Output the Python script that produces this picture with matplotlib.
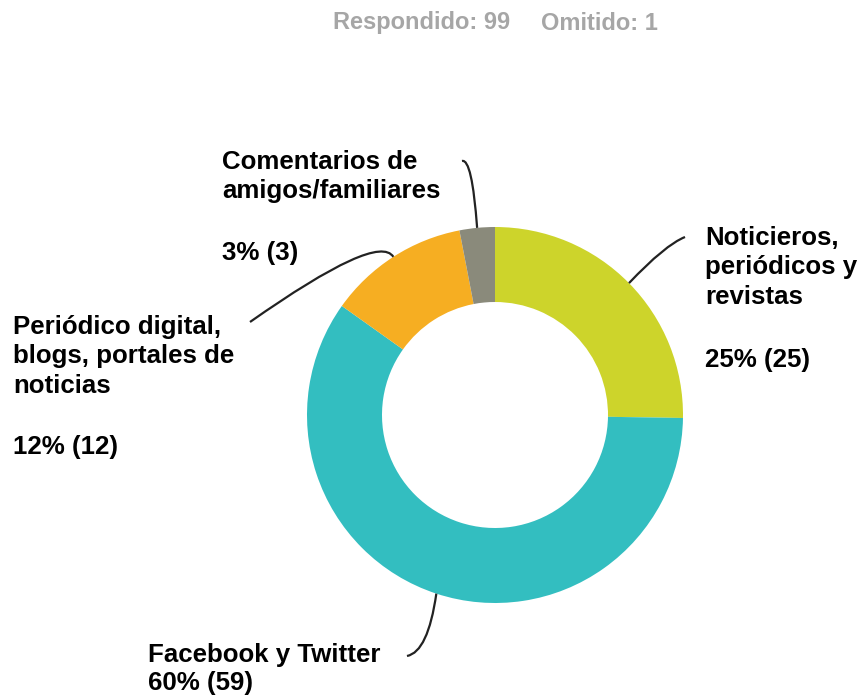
import numpy as np
import matplotlib.pyplot as plt
from matplotlib.path import Path
from matplotlib.patches import PathPatch

# Datos de la encuesta
categorias = ["Noticieros,\nperiódicos y\nrevistas",
              "Facebook y Twitter",
              "Periódico digital,\nblogs, portales de\nnoticias",
              "Comentarios de\namigos/familiares"]
conteos = [25, 59, 12, 3]
porcentajes = [25, 60, 12, 3]
colores = ["#CDD42B", "#33BEC0", "#F6AE22", "#8A8A7B"]
respondido = 99
omitido = 1

W, H = 862, 700
plt.rcParams['font.family'] = ['Liberation Sans', 'DejaVu Sans']

fig = plt.figure(figsize=(W / 100, H / 100), dpi=100)
ax = fig.add_axes([0, 0, 1, 1])

def Y(p):
    # coordenadas en pixeles desde arriba
    return H - p

cx, cy, R, r_in = 495, Y(415), 188, 113
wedges, _ = ax.pie(conteos, colors=colores, startangle=90, counterclock=False,
                   radius=R, center=(cx, cy),
                   wedgeprops=dict(width=R - r_in, linewidth=0))
ax.set_xlim(0, W)
ax.set_ylim(0, H)
ax.axis('off')

# Encabezado
ax.text(333, Y(23), f"Respondido: {respondido}", color="#A6A6A6", fontsize=17,
        fontweight='bold', va='center', ha='left')
ax.text(541, Y(23), f"Omitido: {omitido}", color="#A6A6A6", fontsize=17,
        fontweight='bold', va='center', ha='left')

# Posiciones de etiquetas (x izquierda, linea base primera linea, linea base porcentaje)
etiquetas = [
    (705, 245, 367),
    (148, 662, 690),
    (13, 334, 454),
    (222, 169, 260),
]
# punto de control y fin de las lineas guia (en pixeles)
guias = [
    [(665, 245), (685, 237)],
    [(428, 652), (407, 656)],
    [(378, 232), (250, 322)],
    [(472, 158), (462, 161)],
]

paso = 29.5
for i, w in enumerate(wedges):
    x0, b1, b2 = etiquetas[i]
    lineas = categorias[i].split("\n")
    for k, ln in enumerate(lineas):
        ax.text(x0, Y(b1 + k * paso), ln, fontsize=18.6, fontweight='bold',
                color="#000000", ha='left', va='baseline')
    ax.text(x0, Y(b2), f"{porcentajes[i]}% ({conteos[i]})", fontsize=18.6,
            fontweight='bold', color="#000000", ha='left', va='baseline')

    ang = np.deg2rad((w.theta1 + w.theta2) / 2)
    sx, sy = cx + R * np.cos(ang), cy + R * np.sin(ang)
    (c1x, c1y), (ex, ey) = guias[i]
    path = Path([(sx, sy), (c1x, Y(c1y)), (ex, Y(ey))],
                [Path.MOVETO, Path.CURVE3, Path.CURVE3])
    ax.add_patch(PathPatch(path, fill=False, edgecolor="#222222", linewidth=1.6))

fig.savefig("out.png", dpi=100)
